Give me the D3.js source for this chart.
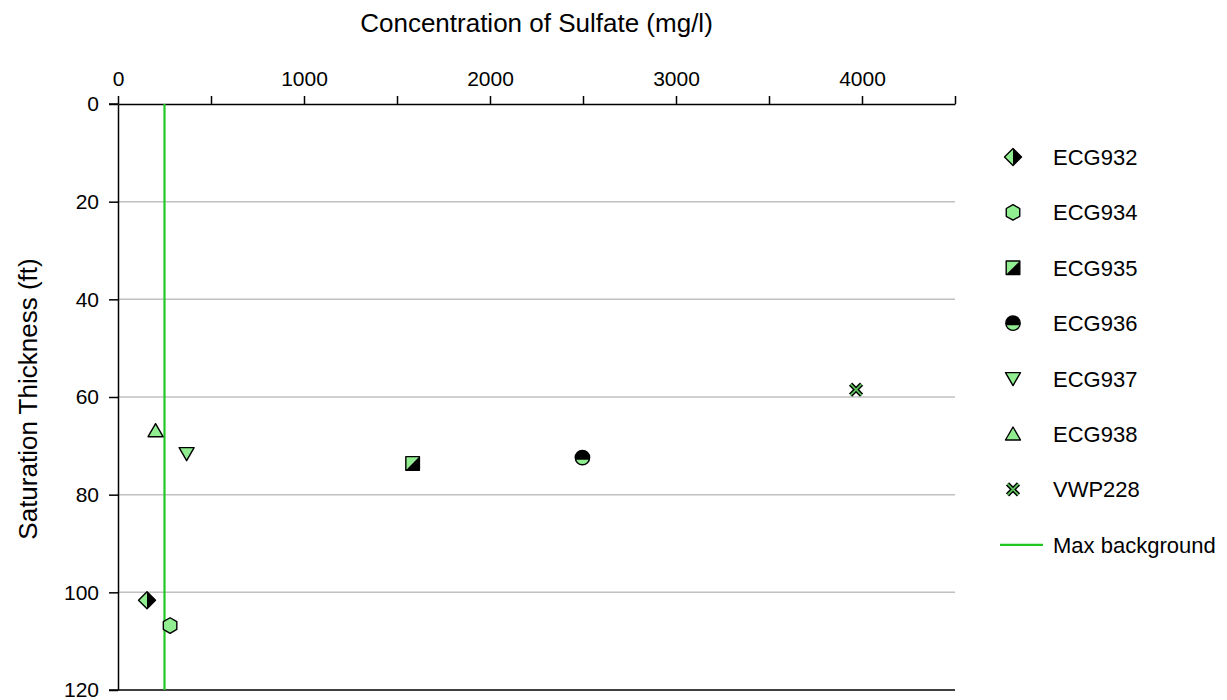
<!DOCTYPE html>
<html>
<head>
<meta charset="utf-8">
<script src="https://cdn.jsdelivr.net/npm/d3@7"></script>
<style>
  body { margin: 0; background: #fff; }
  text { font-family: "Liberation Sans", Arial, sans-serif; }
</style>
</head>
<body>
<div id="chart"></div>
<script>
// values
const wells = ["ECG932", "ECG934", "ECG935", "ECG936", "ECG937", "ECG938", "VWP228"];
const sulfate = [156, 280, 1584, 2497, 369, 202, 3968];
const thickness = [101.6, 106.8, 73.6, 72.4, 71.6, 66.9, 58.5];
const maxBackground = 250;
const xTicks = [0, 1000, 2000, 3000, 4000];
const xMinor = [500, 1500, 2500, 3500, 4500];
const yTicks = [0, 20, 40, 60, 80, 100, 120];

const W = 1227, H = 700;
const margin = { top: 104, left: 118, right: 272, bottom: 10 };
const width = W - margin.left - margin.right,
    height = H - margin.top - margin.bottom;

const green = "#90ee90";

const root = d3.select("#chart").append("svg")
    .attr("width", W).attr("height", H);
const svg = root.append("g")
    .attr("transform", `translate(${margin.left}, ${margin.top})`);

const x = d3.scaleLinear().domain([0, 4500]).range([0, width]);
const y = d3.scaleLinear().domain([0, 120]).range([0, height]);

// gridlines
svg.selectAll(".grid")
    .data(yTicks.filter(d => d > 0 && d < 120))
    .join("line")
    .attr("x1", 0).attr("x2", width)
    .attr("y1", d => y(d)).attr("y2", d => y(d))
    .attr("stroke", "#c0c0c0").attr("stroke-width", 1.5);

// bottom border line
svg.append("line")
    .attr("x1", -9).attr("x2", width)
    .attr("y1", height).attr("y2", height)
    .attr("stroke", "#000").attr("stroke-width", 1.5);

// top axis
const xAxis = svg.append("g")
    .call(d3.axisTop(x).tickValues(xTicks).tickSize(8).tickPadding(10)
        .tickFormat(d3.format("d")).tickSizeOuter(0));
xAxis.select(".domain").attr("stroke-width", 1.5);
xAxis.selectAll(".tick line").attr("stroke-width", 1.5);
xAxis.selectAll("text").attr("font-size", 21).attr("dy", 0)
    .attr("font-family", "Liberation Sans, Arial, sans-serif");
svg.append("g")
    .call(d3.axisTop(x).tickValues(xMinor).tickSize(8).tickFormat("").tickSizeOuter(0))
    .call(g => g.select(".domain").remove())
    .selectAll("line").attr("stroke-width", 1.5);
svg.append("line")
    .attr("x1", -9).attr("x2", 0).attr("y1", 0).attr("y2", 0)
    .attr("stroke", "#000").attr("stroke-width", 1.5);

// left axis
const yAxis = svg.append("g")
    .call(d3.axisLeft(y).tickValues(yTicks).tickSize(9).tickPadding(10).tickSizeOuter(0));
yAxis.select(".domain").attr("stroke-width", 1.5);
yAxis.selectAll(".tick line").attr("stroke-width", 1.5);
yAxis.selectAll("text").attr("font-size", 21)
    .attr("font-family", "Liberation Sans, Arial, sans-serif");

// titles
root.append("text")
    .attr("x", margin.left + width / 2).attr("y", 32)
    .attr("text-anchor", "middle").attr("font-size", 26)
    .text("Concentration of Sulfate (mg/l)");
root.append("text")
    .attr("transform", `translate(37, ${margin.top + height / 2 + 2}) rotate(-90)`)
    .attr("text-anchor", "middle").attr("font-size", 26)
    .text("Saturation Thickness (ft)");

// max background line
svg.append("line")
    .attr("x1", x(maxBackground)).attr("x2", x(maxBackground))
    .attr("y1", 0).attr("y2", height)
    .attr("stroke", "#22c822").attr("stroke-width", 2.2);

// marker drawing
function drawMarker(g, i) {
    const sw = 1.4;
    const path = (d, fill) => g.append("path").attr("d", d).attr("fill", fill);
    const outline = (d) => g.append("path").attr("d", d).attr("fill", "none")
        .attr("stroke", "#000").attr("stroke-width", sw).attr("stroke-linejoin", "round");
    if (i === 0) { // diamond, left green right black
        const s = 8.5;
        path(`M0,${-s} L${-s},0 L0,${s} Z`, green);
        path(`M0,${-s} L${s},0 L0,${s} Z`, "#000");
        outline(`M0,${-s} L${s},0 L0,${s} L${-s},0 Z`);
    } else if (i === 1) { // hexagon
        const r = 7.8;
        const pts = d3.range(6).map(k => {
            const a = Math.PI / 6 + k * Math.PI / 3;
            return [r * Math.cos(a), r * Math.sin(a)];
        });
        path("M" + pts.join("L") + "Z", green);
        outline("M" + pts.join("L") + "Z");
    } else if (i === 2) { // square, upper-left green lower-right black
        const h = 6.8;
        path(`M${-h},${-h} L${h},${-h} L${-h},${h} Z`, green);
        path(`M${h},${-h} L${h},${h} L${-h},${h} Z`, "#000");
        outline(`M${-h},${-h} H${h} V${h} H${-h} Z`);
    } else if (i === 3) { // circle, top black bottom green
        const r = 7.2;
        const k = 0.3, c = Math.sqrt(1 - k * k);
        g.append("circle").attr("r", r).attr("fill", "#000");
        path(`M${-r * c},${r * k} A${r},${r} 0 0 0 ${r * c},${r * k} Z`, green);
        g.append("circle").attr("r", r).attr("fill", "none")
            .attr("stroke", "#000").attr("stroke-width", sw);
    } else if (i === 4) { // down triangle
        const d = "M-7.5,-6 L7.5,-6 L0,7 Z";
        path(d, green); outline(d);
    } else if (i === 5) { // up triangle
        const d = "M-7.5,6 L7.5,6 L0,-7 Z";
        path(d, green); outline(d);
    } else { // x
        const d = "M-5.5,-5.5 L5.5,5.5 M-5.5,5.5 L5.5,-5.5";
        g.append("path").attr("d", d).attr("stroke", "#000").attr("stroke-width", 4.5);
        g.append("path").attr("d", d).attr("stroke", "#5cc05c").attr("stroke-width", 1.8);
    }
}

// points
wells.forEach((w, i) => {
    const g = svg.append("g")
        .attr("transform", `translate(${x(sulfate[i])}, ${y(thickness[i])})`);
    drawMarker(g, i);
});

// legend
const legend = root.append("g").attr("transform", "translate(1013, 157)");
const rowH = 55.4;
wells.forEach((w, i) => {
    const g = legend.append("g").attr("transform", `translate(0, ${i * rowH})`);
    drawMarker(g, i);
    g.append("text").attr("x", 40).attr("y", 8).attr("font-size", 22).text(w);
});
const lg = legend.append("g").attr("transform", `translate(0, ${wells.length * rowH})`);
lg.append("line").attr("x1", -13).attr("x2", 30).attr("y1", 0).attr("y2", 0)
    .attr("stroke", "#22c822").attr("stroke-width", 2.2);
lg.append("text").attr("x", 40).attr("y", 8).attr("font-size", 22).text("Max background");
</script>
</body>
</html>
